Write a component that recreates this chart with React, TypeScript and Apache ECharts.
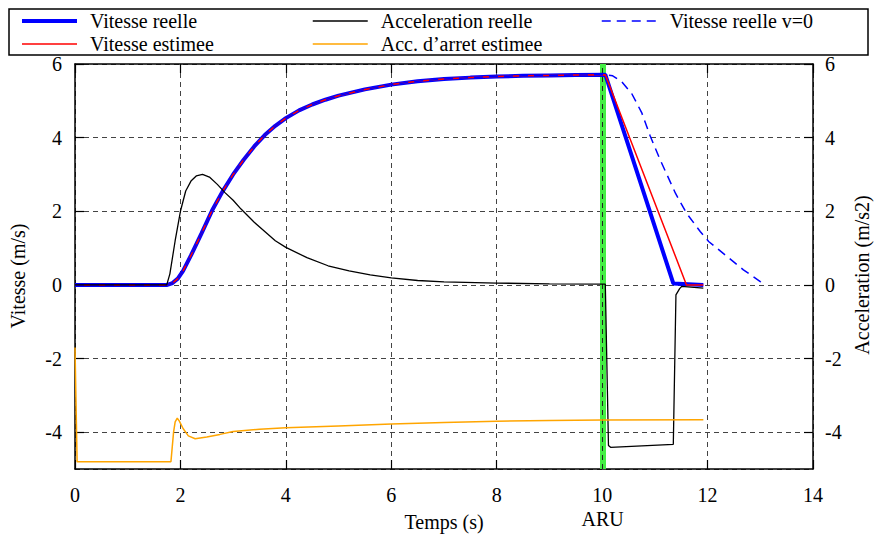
import { useEffect, useRef } from 'react';
import * as echarts from 'echarts';

const FONT = '"Liberation Serif", "Times New Roman", serif';

// Shared speed profile (real and estimated coincide until the emergency stop)
const vitesseCommune: [number, number][] = [
  [0, 0], [1.75, 0], [1.85, 0.05], [1.95, 0.17], [2.05, 0.38], [2.2, 0.8], [2.4, 1.4],
  [2.6, 2.02], [2.8, 2.54], [3.0, 3.0], [3.2, 3.4], [3.4, 3.76], [3.6, 4.07], [3.8, 4.32],
  [4.0, 4.53], [4.25, 4.74], [4.5, 4.9], [4.75, 5.03], [5.0, 5.14], [5.5, 5.31], [6.0, 5.44],
  [6.5, 5.53], [7.0, 5.59], [7.5, 5.63], [8.0, 5.66], [8.5, 5.68], [9.0, 5.69], [9.5, 5.7],
  [10.06, 5.71],
];
const vitesseReelleFin: [number, number][] = [[11.35, 0.04], [11.92, 0.0]];
const vitesseEstimeeFin: [number, number][] = [[11.6, 0.0], [11.92, 0.0]];
const vitesseV0Fin: [number, number][] = [
  [10.2, 5.68], [10.37, 5.52], [10.56, 5.2], [10.75, 4.68], [10.91, 4.05], [11.1, 3.4],
  [11.39, 2.49], [11.6, 1.95], [11.86, 1.45], [12.02, 1.18], [12.37, 0.77], [12.68, 0.41],
  [13.0, 0.09], [13.04, 0.06],
];
const accelerationReelle: [number, number][] = [
  [0, 0], [1.74, 0], [1.8, 0.3], [1.9, 1.2], [2.0, 2.0], [2.1, 2.55], [2.2, 2.82], [2.3, 2.96],
  [2.42, 3.0], [2.55, 2.93], [2.7, 2.73], [2.85, 2.5], [3.0, 2.3], [3.15, 2.06], [3.4, 1.7],
  [3.6, 1.45], [3.8, 1.2], [4.0, 1.02], [4.4, 0.74], [4.8, 0.52], [5.2, 0.38], [5.6, 0.27],
  [6.0, 0.19], [6.5, 0.12], [7.0, 0.08], [8.0, 0.05], [9.0, 0.03], [10.06, 0.02],
  [10.12, -4.36], [10.16, -4.41], [11.35, -4.33], [11.4, -0.27], [11.47, -0.1], [11.51, -0.04],
  [11.92, -0.09],
];
const accArretEstimee: [number, number][] = [
  [0, -1.7], [0.04, -4.8], [1.82, -4.8], [1.87, -4.0], [1.9, -3.72], [1.94, -3.62],
  [1.98, -3.7], [2.05, -3.9], [2.15, -4.1], [2.28, -4.18], [2.5, -4.13], [2.75, -4.06],
  [3.0, -3.98], [3.5, -3.92], [4.0, -3.88], [5.0, -3.83], [6.0, -3.78], [7.0, -3.74],
  [8.0, -3.7], [9.0, -3.68], [10.0, -3.67], [11.92, -3.66],
];
const ARU_TIME = 10.01;
const ARU_LABEL = 'ARU';

const names = {
  vr: 'Vitesse reelle',
  ve: 'Vitesse estimee',
  v0: 'Vitesse reelle v=0',
  ar: 'Acceleration reelle',
  ae: 'Acc. d\u2019arret estimee',
};

const txt = { fontFamily: FONT, fontSize: 20, color: '#000' };
const gridLine = { show: true, lineStyle: { color: '#444', width: 1, type: [5, 4] as number[] } };
const frameLine = { show: true, onZero: false, lineStyle: { color: '#000', width: 1.5 } };
const tickIn = { show: true, inside: true, length: 9, lineStyle: { color: '#000', width: 1.2 } };

export default function App() {
  const ref = useRef<HTMLDivElement>(null);
  useEffect(() => {
    const chart = echarts.init(ref.current!, null, { renderer: 'svg' });
    const legendBase = {
      orient: 'vertical' as const,
      top: 11,
      itemWidth: 55,
      itemHeight: 14,
      itemGap: 3,
      padding: 0,
      selectedMode: false,
      itemStyle: { opacity: 0 },
      lineStyle: { width: 'inherit' },
      textStyle: { ...txt, padding: [0, 0, 0, 8] },
    };
    chart.setOption({
      animation: false,
      backgroundColor: '#fff',
      grid: { left: 75, right: 63, top: 64, bottom: 68, show: false },
      legend: [
        { ...legendBase, left: 20, data: [names.vr, names.ve] },
        { ...legendBase, left: 312, data: [names.ar, names.ae] },
        { ...legendBase, left: 601, data: [names.v0] },
      ],
      graphic: [
        { type: 'rect', shape: { x: 9, y: 9, width: 859, height: 46 }, style: { fill: 'none', stroke: '#000', lineWidth: 1.5 } },
        { type: 'text', x: 18, y: 276, rotation: Math.PI / 2, style: { text: 'Vitesse (m/s)', fill: '#000', align: 'center', verticalAlign: 'middle', font: `20px ${FONT}` } },
        { type: 'text', x: 862, y: 275, rotation: Math.PI / 2, style: { text: 'Acceleration (m/s2)', fill: '#000', align: 'center', verticalAlign: 'middle', font: `20px ${FONT}` } },
      ],
      xAxis: [
        {
          type: 'value', min: 0, max: 14, interval: 2, position: 'bottom',
          axisLine: frameLine, axisTick: tickIn, splitLine: gridLine,
          axisLabel: { ...txt, margin: 16 },
          name: 'Temps (s)', nameLocation: 'middle', nameGap: 43, nameTextStyle: txt,
        },
        {
          type: 'value', min: 0, max: 14, interval: 2, position: 'top',
          axisLine: frameLine, axisTick: tickIn, splitLine: { show: false }, axisLabel: { show: false },
        },
      ],
      yAxis: [
        {
          type: 'value', min: -5, max: 6, position: 'left',
          axisLine: frameLine, axisTick: tickIn, splitLine: gridLine,
          axisLabel: { ...txt, margin: 13, showMinLabel: false },
        },
        {
          type: 'value', min: -5, max: 6, position: 'right',
          axisLine: frameLine, axisTick: tickIn, splitLine: { show: false },
          axisLabel: { ...txt, margin: 12, showMinLabel: false },
        },
      ],
      series: [
        {
          name: names.vr, type: 'line', symbol: 'none', z: 2,
          data: [...vitesseCommune, ...vitesseReelleFin],
          lineStyle: { color: '#0000ff', width: 4 }, itemStyle: { color: '#0000ff' },
          markLine: {
            silent: true, symbol: ['none', 'none'], z: 1, animation: false,
            data: [
              {
                xAxis: ARU_TIME,
                lineStyle: { color: '#44ee44', width: 6, type: 'solid' },
                label: { show: true, position: 'start', formatter: ARU_LABEL, distance: 40, ...txt },
              },
              {
                xAxis: ARU_TIME,
                lineStyle: { color: '#222', width: 1, type: [5, 4] },
                label: { show: false },
              },
            ],
          },
        },
        {
          name: names.ve, type: 'line', symbol: 'none', z: 3,
          data: [...vitesseCommune, ...vitesseEstimeeFin],
          lineStyle: { color: '#ff0000', width: 1.5 }, itemStyle: { color: '#ff0000' },
        },
        {
          name: names.v0, type: 'line', symbol: 'none', z: 4,
          data: [...vitesseCommune, ...vitesseV0Fin],
          lineStyle: { color: '#0000ff', width: 1.5, type: [9, 6] }, itemStyle: { color: '#0000ff' },
        },
        {
          name: names.ar, type: 'line', symbol: 'none', z: 5, yAxisIndex: 1,
          data: accelerationReelle,
          lineStyle: { color: '#000', width: 1.3 }, itemStyle: { color: '#000' },
        },
        {
          name: names.ae, type: 'line', symbol: 'none', z: 5, yAxisIndex: 1,
          data: accArretEstimee,
          lineStyle: { color: '#ffa500', width: 1.5 }, itemStyle: { color: '#ffa500' },
        },
      ],
    });
    return () => chart.dispose();
  }, []);
  return <div ref={ref} style={{ position: 'fixed', left: 0, top: 0, width: 876, height: 537 }} />;
}
